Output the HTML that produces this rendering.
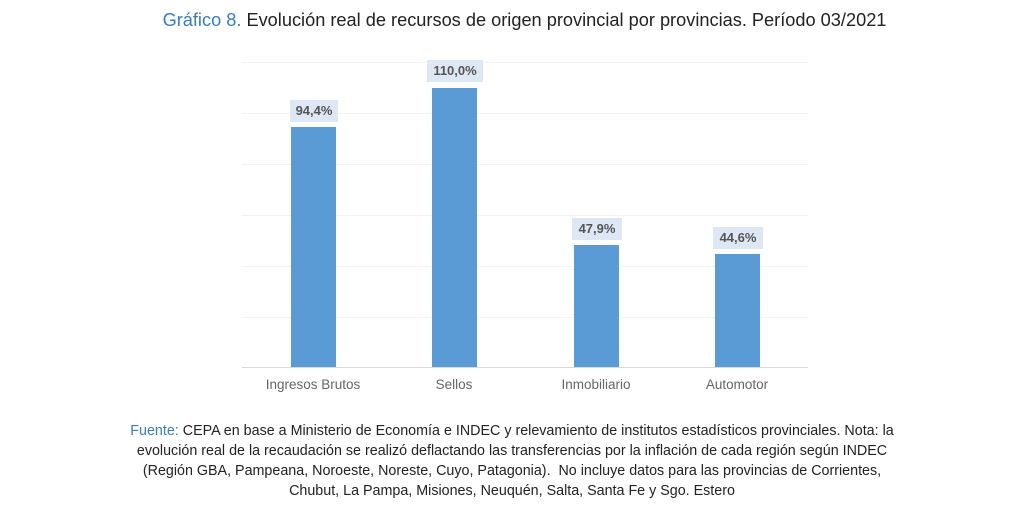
<!DOCTYPE html>
<html><head><meta charset="utf-8"><style>
body{margin:0;width:1024px;height:519px;background:#fff;font-family:"Liberation Sans",sans-serif;position:relative;overflow:hidden}
.t{position:absolute;left:0;width:1024px;text-align:center;top:10px;font-size:18.2px;color:#222;padding-left:25px;box-sizing:border-box}
.t b{color:#3a7cc0;font-weight:normal}
.g{position:absolute;left:242px;width:566px;height:1px;background:#f3f3f3}
.bar{position:absolute;width:45px;background:#5b9bd5}
.lb{position:absolute;background:#dde8f4;color:#555;font-weight:bold;font-size:13px;text-align:center;height:22px;line-height:22px}
.x{position:absolute;top:377px;font-size:13.5px;color:#666;text-align:center;width:140px}
.f{position:absolute;left:0;width:1024px;top:421px;text-align:center;font-size:14.3px;line-height:20px;color:#222}
.f span{color:#3a7cc0}
</style></head><body>
<div class="t"><b>Gráfico 8.</b> Evolución real de recursos de origen provincial por provincias. Período 03/2021</div>
<div class="g" style="top:62px"></div><div class="g" style="top:113px"></div><div class="g" style="top:164px"></div>
<div class="g" style="top:215px"></div><div class="g" style="top:266px"></div><div class="g" style="top:317px"></div>
<div class="g" style="top:367px;background:#d9d9d9"></div>
<div class="bar" style="left:291px;top:127px;height:240px"></div>
<div class="bar" style="left:432px;top:88px;height:279px"></div>
<div class="bar" style="left:574px;top:245px;height:122px"></div>
<div class="bar" style="left:715px;top:254px;height:113px"></div>
<div class="lb" style="left:290px;top:100px;width:48px">94,4%</div>
<div class="lb" style="left:427px;top:60px;width:56px">110,0%</div>
<div class="lb" style="left:572px;top:218px;width:50px">47,9%</div>
<div class="lb" style="left:713px;top:227px;width:50px">44,6%</div>
<div class="x" style="left:243px">Ingresos Brutos</div>
<div class="x" style="left:384px">Sellos</div>
<div class="x" style="left:526px">Inmobiliario</div>
<div class="x" style="left:667px">Automotor</div>
<div class="f"><span>Fuente:</span> CEPA en base a Ministerio de Economía e INDEC y relevamiento de institutos estadísticos provinciales. Nota: la<br>evolución real de la recaudación se realizó deflactando las transferencias por la inflación de cada región según INDEC<br>(Región GBA, Pampeana, Noroeste, Noreste, Cuyo, Patagonia).&nbsp; No incluye datos para las provincias de Corrientes,<br>Chubut, La Pampa, Misiones, Neuquén, Salta, Santa Fe y Sgo. Estero</div>
</body></html>
